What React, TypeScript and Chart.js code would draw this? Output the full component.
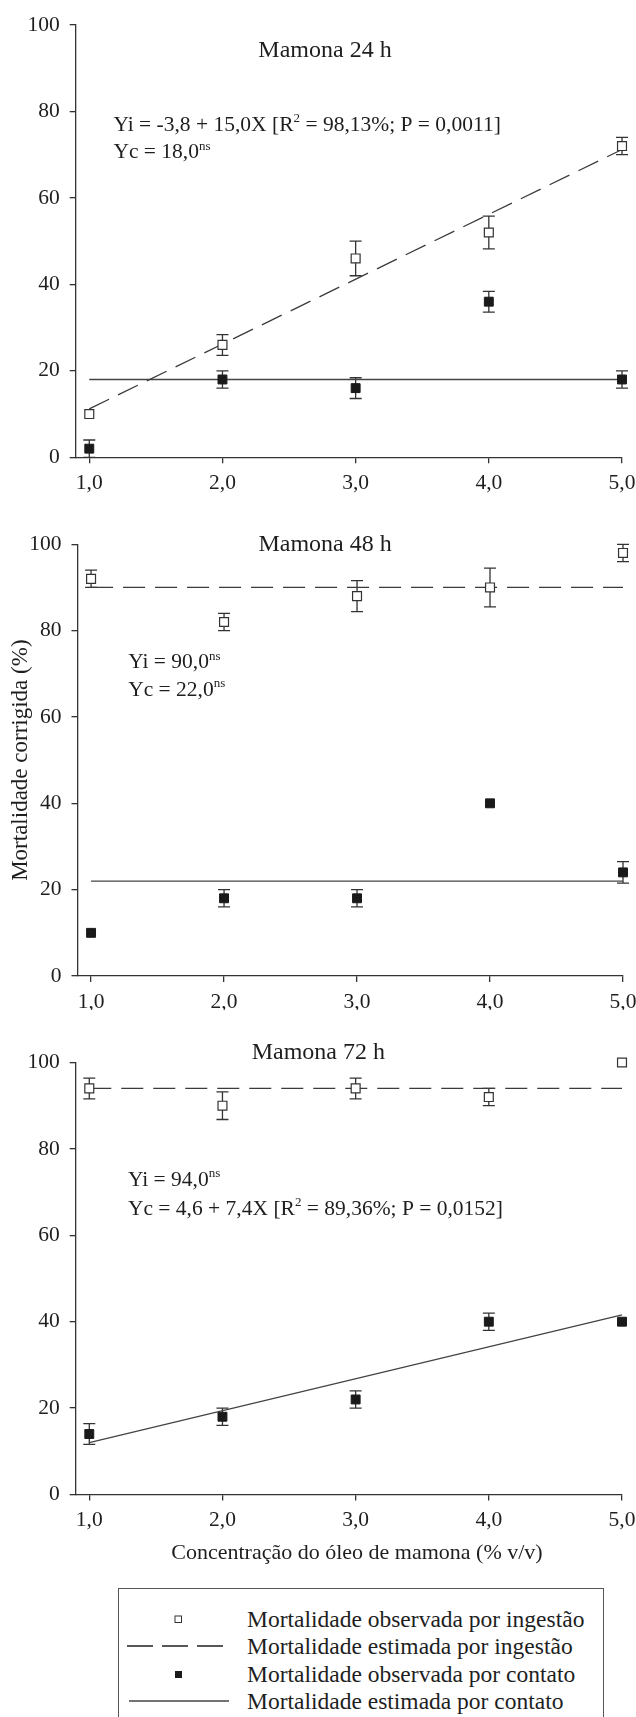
import React, { useEffect, useRef } from "react";
import { Chart, registerables } from "chart.js";

Chart.register(...registerables);

// ---------------- data ----------------
const concentrations = [1, 2, 3, 4, 5];
const xTickLabels = ["1,0", "2,0", "3,0", "4,0", "5,0"];
const fitX = [1, 5];

// 24 h
const ingest24 = [10, 26, 46, 52, 72];
const ingest24Err = [0, 2.4, 4, 3.8, 2];
const contact24 = [2, 18, 16, 36, 18];
const contact24Err = [2, 2, 2.4, 2.4, 2];
const ingest24Fit = [11.2, 71.2];
const contact24Fit = [18, 18];

// 48 h
const ingest48 = [92, 82, 88, 90, 98];
const ingest48Err = [2, 2, 3.6, 4.5, 2];
const contact48 = [10, 18, 18, 40, 24];
const contact48Err = [0, 2, 2, 0, 2.5];
const ingest48Fit = [90, 90];
const contact48Fit = [22, 22];

// 72 h
const ingest72 = [94, 90, 94, 92, 100];
const ingest72Err = [2.4, 3.2, 2.4, 2, 0];
const contact72 = [14, 18, 22, 40, 40];
const contact72Err = [2.4, 2, 2, 2, 0];
const ingest72Fit = [94, 94];
const contact72Fit = [12, 41.6];

const panelTitles = ["Mamona 24 h", "Mamona 48 h", "Mamona 72 h"];
const eq24 = [
  [["Yi = -3,8 + 15,0X [R", false], ["2", true], [" = 98,13%; P = 0,0011]", false]],
  [["Yc = 18,0", false], ["ns", true]],
];
const eq48 = [
  [["Yi = 90,0", false], ["ns", true]],
  [["Yc = 22,0", false], ["ns", true]],
];
const eq72 = [
  [["Yi = 94,0", false], ["ns", true]],
  [["Yc = 4,6 + 7,4X [R", false], ["2", true], [" = 89,36%; P = 0,0152]", false]],
];
const yAxisTitle = "Mortalidade corrigida (%)";
const xAxisTitle = "Concentração do óleo de mamona (% v/v)";
const legendLabels = [
  "Mortalidade observada por ingestão",
  "Mortalidade estimada por ingestão",
  "Mortalidade observada por contato",
  "Mortalidade estimada por contato",
];

// ---------------- styles ----------------
const FONT = "'Liberation Serif', 'Times New Roman', Times, serif";
const TEXT = "#1e1e1e";
const AXIS = "#333333";

// ---------------- plugins ----------------
const errorBarPlugin = {
  id: "errorBars",
  beforeDatasetsDraw(chart: any) {
    const { ctx, scales } = chart;
    const x = scales.x, y = scales.y;
    ctx.save();
    ctx.strokeStyle = "#333";
    ctx.lineWidth = 1.3;
    const cap = 6;
    chart.data.datasets.forEach((ds: any) => {
      if (!ds.errors) return;
      ds.data.forEach((pt: any, i: number) => {
        const e = ds.errors[i];
        if (!e) return;
        const px = x.getPixelForValue(pt.x);
        const top = y.getPixelForValue(pt.y + e);
        const bot = y.getPixelForValue(pt.y - e);
        ctx.beginPath();
        ctx.moveTo(px, top);
        ctx.lineTo(px, bot);
        ctx.moveTo(px - cap, top);
        ctx.lineTo(px + cap, top);
        ctx.moveTo(px - cap, bot);
        ctx.lineTo(px + cap, bot);
        ctx.stroke();
      });
    });
    ctx.restore();
  },
};

const textPlugin = {
  id: "texts",
  afterDraw(chart: any, _args: any, opts: any) {
    const { ctx, scales } = chart;
    const x = scales.x, y = scales.y;
    ctx.save();
    ctx.fillStyle = TEXT;
    ctx.textBaseline = "alphabetic";
    ctx.textAlign = "left";
    for (const item of opts.items || []) {
      const main = `${item.size}px ${FONT}`;
      const sup = `${Math.round(item.size * 0.62)}px ${FONT}`;
      let total = 0;
      for (const [t, s] of item.segments) {
        ctx.font = s ? sup : main;
        total += ctx.measureText(t).width;
      }
      let px = x.getPixelForValue(item.x);
      const py = y.getPixelForValue(item.y);
      if (item.align === "center") px -= total / 2;
      for (const [t, s] of item.segments) {
        ctx.font = s ? sup : main;
        ctx.fillText(t, px, s ? py - item.size * 0.4 : py);
        px += ctx.measureText(t).width;
      }
    }
    ctx.restore();
  },
};

function eqItems(lines: any[], x: number, y1: number, y2: number) {
  return [
    { x, y: y1, segments: lines[0], size: 21.5, align: "left" },
    { x, y: y2, segments: lines[1], size: 21.5, align: "left" },
  ];
}

function buildConfig(p: any) {
  const pts = (vals: number[]) => concentrations.map((c, i) => ({ x: c, y: vals[i] }));
  const fit = (vals: number[]) => fitX.map((c, i) => ({ x: c, y: vals[i] }));
  return {
    type: "scatter",
    data: {
      datasets: [
        {
          label: legendLabels[0],
          data: pts(p.ingest),
          errors: p.ingestErr,
          pointStyle: "rect",
          pointRadius: 6.3,
          backgroundColor: "#ffffff",
          borderColor: "#333",
          borderWidth: 1.2,
          clip: false,
        },
        {
          label: legendLabels[2],
          data: pts(p.contact),
          errors: p.contactErr,
          pointStyle: "rect",
          pointRadius: 6.3,
          backgroundColor: "#1a1a1a",
          borderColor: "#1a1a1a",
          borderWidth: 1,
          clip: false,
        },
        {
          label: legendLabels[1],
          data: fit(p.ingestFit),
          showLine: true,
          pointRadius: 0,
          borderColor: "#3a3a3a",
          borderWidth: 1.3,
          borderDash: [22, 10],
          clip: false,
        },
        {
          label: legendLabels[3],
          data: fit(p.contactFit),
          showLine: true,
          pointRadius: 0,
          borderColor: "#444",
          borderWidth: 1.3,
          clip: false,
        },
      ],
    },
    options: {
      animation: false,
      responsive: false,
      events: [],
      layout: { padding: { top: p.padTop, right: p.padRight, left: 0, bottom: 0 } },
      plugins: {
        legend: { display: false },
        tooltip: { enabled: false },
        texts: { items: p.texts },
      },
      scales: {
        x: {
          type: "linear",
          min: 0.898,
          max: 5,
          afterBuildTicks: (s: any) => {
            s.ticks = concentrations.map((v) => ({ value: v }));
          },
          afterFit: (s: any) => {
            s.height = p.xHeight;
            s.paddingRight = 0;
            s.paddingLeft = 0;
          },
          ticks: {
            callback: (_v: any, i: number) => xTickLabels[i],
            color: TEXT,
            font: { family: FONT, size: 21.5 },
            padding: 7,
            maxRotation: 0,
            autoSkip: false,
          },
          grid: { drawOnChartArea: false, drawTicks: true, tickLength: 6, color: AXIS, lineWidth: 1.3 },
          border: { display: true, color: AXIS, width: 1.3 },
        },
        y: {
          type: "linear",
          min: 0,
          max: 100,
          afterFit: (s: any) => {
            s.width = p.yWidth;
          },
          ticks: {
            stepSize: 20,
            color: TEXT,
            font: { family: FONT, size: 21.5 },
            padding: 10,
          },
          grid: { drawOnChartArea: false, drawTicks: true, tickLength: 6, color: AXIS, lineWidth: 1.3 },
          border: { display: true, color: AXIS, width: 1.3 },
          title: p.yTitle
            ? { display: true, text: yAxisTitle, color: TEXT, font: { family: FONT, size: 23 }, padding: { top: 7, bottom: 0 } }
            : { display: false },
        },
      },
    },
    plugins: [errorBarPlugin, textPlugin],
  };
}

const panels = [
  {
    top: 0,
    height: 505,
    padTop: 25,
    padRight: 14,
    xHeight: 47.7,
    yWidth: 75.7,
    ingest: ingest24,
    ingestErr: ingest24Err,
    contact: contact24,
    contactErr: contact24Err,
    ingestFit: ingest24Fit,
    contactFit: contact24Fit,
    texts: [
      { x: 2.77, y: 92.5, segments: [[panelTitles[0], false]], size: 24, align: "center" },
      ...eqItems(eq24, 1.181, 75.5, 69.2),
    ],
  },
  {
    top: 505,
    height: 505,
    padTop: 39.3,
    padRight: 13,
    xHeight: 34,
    yWidth: 77.5,
    yTitle: true,
    ingest: ingest48,
    ingestErr: ingest48Err,
    contact: contact48,
    contactErr: contact48Err,
    ingestFit: ingest48Fit,
    contactFit: contact48Fit,
    texts: [
      { x: 2.76, y: 98.4, segments: [[panelTitles[1], false]], size: 24, align: "center" },
      ...eqItems(eq48, 1.279, 71.3, 64.9),
    ],
  },
  {
    top: 1010,
    height: 570,
    padTop: 52.5,
    padRight: 14,
    xHeight: 85.5,
    yWidth: 75.7,
    ingest: ingest72,
    ingestErr: ingest72Err,
    contact: contact72,
    contactErr: contact72Err,
    ingestFit: ingest72Fit,
    contactFit: contact72Fit,
    texts: [
      { x: 2.72, y: 100.8, segments: [[panelTitles[2], false]], size: 24, align: "center" },
      ...eqItems(eq72, 1.29, 71.4, 64.8),
      // x-axis title, placed below the axis
      { x: 3.01, y: -14.9, segments: [[xAxisTitle, false]], size: 22, align: "center" },
    ],
  },
];

function Panel({ p }: { p: any }) {
  const ref = useRef<HTMLCanvasElement | null>(null);
  useEffect(() => {
    if (!ref.current) return;
    const chart = new Chart(ref.current, buildConfig(p) as any);
    return () => chart.destroy();
  }, [p]);
  return (
    <canvas
      ref={ref}
      width={636}
      height={p.height}
      style={{ position: "absolute", left: 0, top: p.top, width: 636, height: p.height, display: "block" }}
    />
  );
}

function LegendSymbol({ kind }: { kind: number }) {
  return (
    <svg width={125} height={28} style={{ position: "absolute", left: 0, top: 0 }}>
      {kind === 0 && <rect x={56} y={11} width={6.5} height={6.5} fill="#fff" stroke="#333" strokeWidth={1} />}
      {kind === 1 && <line x1={8} y1={14} x2={104} y2={14} stroke="#222" strokeWidth={1.3} strokeDasharray="26 9" />}
      {kind === 2 && <rect x={56} y={11} width={7} height={7} fill="#1a1a1a" />}
      {kind === 3 && <line x1={10} y1={14} x2={110} y2={14} stroke="#444" strokeWidth={1.3} />}
    </svg>
  );
}

export default function App() {
  const rowCenters = [30, 57.3, 84.6, 112];
  return (
    <div style={{ position: "absolute", left: 0, top: 0, width: 636, height: 1717, overflow: "hidden", background: "#fff" }}>
      {panels.map((p, i) => (
        <Panel key={i} p={p} />
      ))}
      <div
        style={{
          position: "absolute",
          left: 118,
          top: 1588,
          width: 486,
          height: 160,
          border: "1.5px solid #555",
          boxSizing: "border-box",
        }}
      >
        {legendLabels.map((label, i) => (
          <div key={i} style={{ position: "absolute", left: 0, top: rowCenters[i] - 14, width: 480, height: 28 }}>
            <LegendSymbol kind={i} />
            <span
              style={{
                position: "absolute",
                left: 128,
                top: 0,
                lineHeight: "28px",
                fontFamily: FONT,
                fontSize: 23.5,
                color: TEXT,
                whiteSpace: "nowrap",
              }}
            >
              {label}
            </span>
          </div>
        ))}
      </div>
    </div>
  );
}
